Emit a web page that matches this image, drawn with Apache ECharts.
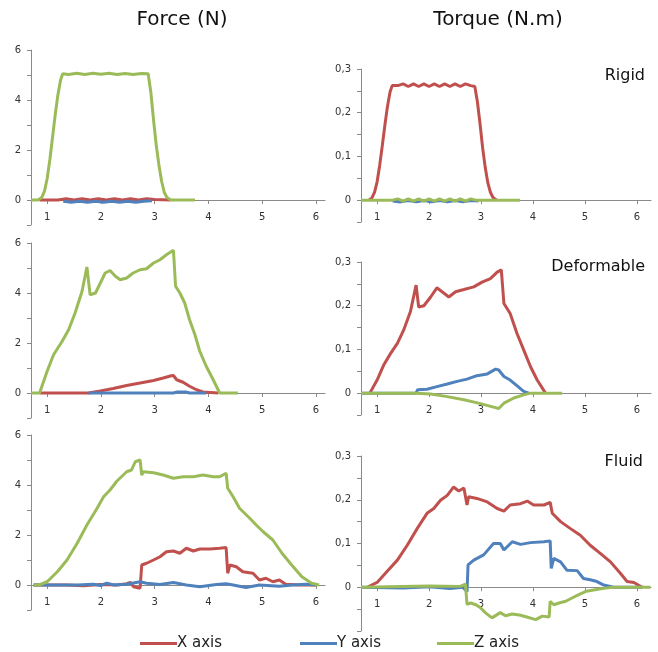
<!DOCTYPE html>
<html>
<head>
<meta charset="utf-8">
<script src="https://cdn.jsdelivr.net/npm/echarts@6/dist/echarts.min.js"></script>
<style>html,body{margin:0;padding:0;background:#fff}#c{width:658px;height:652px}</style>
</head>
<body>
<div id="c"></div>
<script>
// ---------- tick labels ----------
const xTicks = [1, 2, 3, 4, 5, 6];
const seriesNames = ['X axis', 'Y axis', 'Z axis'];
const columnTitles = ['Force (N)', 'Torque (N.m)'];
const rowLabels = ['Rigid', 'Deformable', 'Fluid'];

// ---------- Force, Rigid ----------
const forceRigidX = [[0.86,0],[1.2,0],[1.35,0.05],[1.5,0],[1.65,0.05],[1.8,0],[1.95,0.05],[2.1,0],[2.25,0.05],[2.4,0],[2.55,0.05],[2.7,0],[2.85,0.05],[3.0,0.02],[3.3,0]];
const forceRigidY = [[1.3,-0.05],[1.45,-0.09],[1.6,-0.05],[1.75,-0.09],[1.9,-0.05],[2.05,-0.09],[2.2,-0.05],[2.35,-0.09],[2.5,-0.05],[2.65,-0.09],[2.8,-0.05],[2.95,-0.03]];
const forceRigidZ = [[0.7,0],[0.83,0],[0.9,0.1],[0.95,0.35],[1.0,0.85],[1.05,1.6],[1.1,2.5],[1.15,3.4],[1.2,4.2],[1.25,4.8],[1.29,5.05],[1.4,5.02],[1.55,5.07],[1.7,5.02],[1.85,5.07],[2.0,5.03],[2.15,5.07],[2.3,5.02],[2.45,5.06],[2.6,5.02],[2.75,5.06],[2.88,5.05],[2.93,4.3],[2.98,3.2],[3.03,2.2],[3.08,1.4],[3.13,0.75],[3.18,0.3],[3.23,0.1],[3.3,0],[3.75,0]];

// ---------- Torque, Rigid ----------
const torqueRigidX = [[0.84,0],[0.9,0.005],[0.95,0.018],[1.0,0.042],[1.05,0.08],[1.1,0.125],[1.15,0.172],[1.2,0.215],[1.25,0.248],[1.29,0.262],[1.4,0.262],[1.5,0.266],[1.6,0.26],[1.7,0.266],[1.8,0.26],[1.9,0.266],[2.0,0.26],[2.1,0.266],[2.2,0.26],[2.3,0.266],[2.4,0.26],[2.5,0.266],[2.6,0.26],[2.7,0.266],[2.8,0.262],[2.88,0.26],[2.93,0.225],[2.98,0.175],[3.03,0.12],[3.08,0.075],[3.13,0.04],[3.18,0.018],[3.23,0.006],[3.3,0]];
const torqueRigidY = [[1.3,-0.002],[1.45,-0.004],[1.6,-0.001],[1.75,-0.004],[1.9,-0.001],[2.05,-0.004],[2.2,-0.001],[2.35,-0.004],[2.5,-0.001],[2.65,-0.004],[2.8,-0.001],[2.95,-0.002]];
const torqueRigidZ = [[0.69,0],[1.3,0],[1.4,0.003],[1.5,-0.002],[1.6,0.003],[1.7,-0.002],[1.8,0.003],[1.9,-0.002],[2.0,0.003],[2.1,-0.002],[2.2,0.003],[2.3,-0.002],[2.4,0.003],[2.5,-0.002],[2.6,0.003],[2.7,-0.002],[2.8,0.003],[2.9,0],[3.75,0]];

// ---------- Force, Deformable ----------
const forceDefX = [[0.86,0],[1.77,0],[1.99,0.08],[2.23,0.18],[2.48,0.3],[2.73,0.4],[2.98,0.5],[3.16,0.6],[3.31,0.69],[3.35,0.7],[3.41,0.53],[3.53,0.43],[3.65,0.27],[3.78,0.13],[3.9,0.04],[4.18,0]];
const forceDefY = [[1.77,0],[3.35,0],[3.42,0.04],[3.58,0.04],[3.65,0],[3.96,0]];
const forceDefZ = [[0.7,0],[0.86,0],[1.0,0.87],[1.12,1.53],[1.28,2.07],[1.4,2.53],[1.52,3.2],[1.65,4.07],[1.74,5.04],[1.8,3.93],[1.9,4.0],[1.99,4.4],[2.08,4.8],[2.17,4.9],[2.27,4.67],[2.36,4.53],[2.48,4.6],[2.6,4.8],[2.73,4.93],[2.85,4.97],[2.98,5.2],[3.1,5.33],[3.22,5.53],[3.35,5.71],[3.39,4.27],[3.47,4.0],[3.56,3.6],[3.65,2.93],[3.75,2.33],[3.84,1.67],[3.96,1.07],[4.09,0.53],[4.21,0],[4.55,0]];

// ---------- Torque, Deformable ----------
const torqueDefX = [[0.86,0],[1.0,0.03],[1.13,0.065],[1.26,0.091],[1.39,0.114],[1.51,0.144],[1.64,0.186],[1.75,0.247],[1.8,0.197],[1.9,0.2],[2.03,0.22],[2.15,0.241],[2.25,0.232],[2.38,0.22],[2.51,0.232],[2.67,0.237],[2.86,0.243],[3.02,0.254],[3.18,0.262],[3.31,0.277],[3.39,0.282],[3.44,0.205],[3.56,0.182],[3.69,0.137],[3.82,0.099],[3.95,0.061],[4.08,0.03],[4.24,0]];
const torqueDefY = [[0.69,0],[1.75,0],[1.78,0.008],[1.96,0.009],[2.15,0.015],[2.35,0.021],[2.54,0.027],[2.73,0.032],[2.92,0.04],[3.12,0.044],[3.28,0.055],[3.34,0.053],[3.44,0.038],[3.56,0.03],[3.69,0.017],[3.82,0.004],[3.92,0]];
const torqueDefZ = [[0.69,0],[1.75,0],[2.03,-0.002],[2.35,-0.008],[2.67,-0.015],[2.99,-0.024],[3.24,-0.032],[3.34,-0.035],[3.44,-0.023],[3.63,-0.011],[3.82,-0.004],[3.95,0],[4.56,0]];

// ---------- Force, Fluid ----------
const forceFluidX = [[0.75,0],[1.37,0],[1.68,-0.03],[1.99,0.02],[2.3,0],[2.48,0.05],[2.55,0.1],[2.61,-0.07],[2.73,-0.13],[2.76,0.8],[2.85,0.87],[2.98,1.0],[3.1,1.13],[3.22,1.33],[3.35,1.36],[3.47,1.27],[3.59,1.47],[3.72,1.36],[3.84,1.44],[4.03,1.44],[4.21,1.47],[4.33,1.5],[4.36,0.47],[4.4,0.8],[4.52,0.73],[4.64,0.53],[4.83,0.47],[4.95,0.2],[5.07,0.27],[5.2,0.13],[5.32,0.2],[5.44,0.03],[5.69,0],[6.0,0]];
const forceFluidY = [[0.75,0],[1.56,0],[1.86,0.03],[1.99,-0.02],[2.11,0.07],[2.24,0],[2.48,0.03],[2.73,0.13],[2.85,0.07],[3.1,0.02],[3.35,0.1],[3.59,0],[3.84,-0.07],[4.15,0.02],[4.33,0.05],[4.46,0],[4.7,-0.1],[4.95,0],[5.32,-0.05],[5.57,0],[5.82,0.03],[6.0,0]];
const forceFluidZ = [[0.75,0],[0.85,0],[1.0,0.13],[1.19,0.53],[1.37,1.0],[1.56,1.67],[1.74,2.4],[1.93,3.07],[2.05,3.53],[2.17,3.8],[2.3,4.16],[2.48,4.53],[2.57,4.6],[2.64,4.93],[2.73,5.0],[2.76,4.4],[2.79,4.53],[2.98,4.49],[3.16,4.4],[3.35,4.27],[3.53,4.33],[3.72,4.33],[3.9,4.4],[4.09,4.33],[4.21,4.33],[4.33,4.47],[4.36,3.87],[4.46,3.53],[4.58,3.07],[4.77,2.67],[4.89,2.4],[5.02,2.13],[5.2,1.8],[5.37,1.27],[5.55,0.8],[5.74,0.33],[5.92,0.07],[6.06,0]];

// ---------- Torque, Fluid ----------
const torqueFluidX = [[0.81,0],[1.0,0.011],[1.19,0.036],[1.39,0.062],[1.58,0.096],[1.77,0.134],[1.96,0.169],[2.09,0.18],[2.22,0.199],[2.35,0.21],[2.47,0.229],[2.57,0.22],[2.67,0.227],[2.73,0.188],[2.76,0.207],[2.92,0.203],[3.12,0.195],[3.31,0.18],[3.44,0.174],[3.56,0.188],[3.76,0.191],[3.89,0.197],[4.01,0.188],[4.21,0.188],[4.33,0.194],[4.37,0.169],[4.53,0.15],[4.72,0.134],[4.91,0.119],[5.1,0.096],[5.3,0.077],[5.49,0.058],[5.68,0.032],[5.81,0.013],[5.94,0.011],[6.1,0]];
const torqueFluidY = [[0.69,0],[1.5,-0.002],[2.0,0.001],[2.4,-0.003],[2.65,0],[2.73,-0.01],[2.75,0.051],[2.86,0.062],[3.05,0.074],[3.24,0.1],[3.37,0.1],[3.44,0.085],[3.6,0.104],[3.76,0.098],[3.95,0.102],[4.21,0.104],[4.33,0.106],[4.35,0.043],[4.4,0.066],[4.53,0.058],[4.65,0.039],[4.85,0.038],[4.97,0.02],[5.1,0.017],[5.23,0.013],[5.36,0.005],[5.55,0],[6.1,0]];
const torqueFluidZ = [[0.69,0],[2.0,0.003],[2.6,0.002],[2.7,0.007],[2.73,-0.039],[2.8,-0.036],[2.9,-0.04],[2.99,-0.047],[3.08,-0.058],[3.21,-0.07],[3.37,-0.058],[3.47,-0.065],[3.6,-0.061],[3.76,-0.064],[3.88,-0.068],[4.05,-0.074],[4.18,-0.066],[4.31,-0.068],[4.33,-0.032],[4.4,-0.04],[4.5,-0.036],[4.63,-0.032],[4.76,-0.024],[4.88,-0.017],[5.03,-0.009],[5.22,-0.005],[5.4,-0.002],[5.53,0],[6.26,0]];

// ---------- build ----------
const colors = ['#C0504D', '#4F81BD', '#9BBB59'];
const FONT = 'DejaVu Sans';
const panels = [
  { data: [forceRigidX, forceRigidY, forceRigidZ], kind: 'force', left: 31, top: 50, width: 294, height: 175, yMin: -1 },
  { data: [torqueRigidX, torqueRigidY, torqueRigidZ], kind: 'torque', left: 361, top: 69, width: 290, height: 153, yMin: -0.05 },
  { data: [forceDefX, forceDefY, forceDefZ], kind: 'force', left: 31, top: 243, width: 294, height: 175, yMin: -1 },
  { data: [torqueDefX, torqueDefY, torqueDefZ], kind: 'torque', left: 361, top: 262, width: 290, height: 153, yMin: -0.05 },
  { data: [forceFluidX, forceFluidY, forceFluidZ], kind: 'force', left: 31, top: 435, width: 294, height: 175, yMin: -1 },
  { data: [torqueFluidX, torqueFluidY, torqueFluidZ], kind: 'torque', left: 361, top: 456, width: 290, height: 175, yMin: -0.1 }
];

const axisColor = '#8a8a8a';
const labelStyle = { fontFamily: FONT, fontSize: 10, color: '#333' };
const grid = [], xAxis = [], yAxis = [], series = [];
panels.forEach((p, i) => {
  grid.push({ left: p.left, top: p.top, width: p.width, height: p.height });
  const isF = p.kind === 'force';
  const yMax = isF ? 6 : 0.3;
  // distance (px) from the grid bottom up to the y = 0 line: the x axis crosses there
  const zeroOffset = p.height * (0 - p.yMin) / (yMax - p.yMin);
  xAxis.push({
    type: 'value', gridIndex: i, position: 'bottom', offset: -zeroOffset,
    min: isF ? 0.7 : 0.69, max: isF ? 6.17 : 6.27,
    axisLine: { onZero: false, lineStyle: { color: axisColor, width: 1 } },
    axisTick: { show: true, length: 4, customValues: xTicks, lineStyle: { color: axisColor } },
    axisLabel: Object.assign({ customValues: xTicks, margin: 12 }, labelStyle),
    splitLine: { show: false }
  });
  yAxis.push({
    type: 'value', gridIndex: i,
    min: p.yMin, max: yMax, interval: isF ? 1 : 0.05,
    axisLine: { show: true, onZero: false, lineStyle: { color: axisColor, width: 1 } },
    axisTick: { show: true, length: 4, lineStyle: { color: axisColor } },
    axisLabel: Object.assign({
      margin: 10,
      formatter: function (v) {
        if (isF) { return (v >= 0 && Math.round(v) % 2 === 0) ? String(Math.round(v)) : ''; }
        const r = Math.round(v * 100);
        if (r < 0 || r % 10 !== 0) return '';
        return r === 0 ? '0' : String(r / 100).replace('.', ',');
      }
    }, labelStyle),
    splitLine: { show: false }
  });
  p.data.forEach((d, k) => {
    series.push({
      name: seriesNames[k], type: 'line', xAxisIndex: i, yAxisIndex: i,
      data: d, showSymbol: false, symbol: 'none', clip: false,
      lineStyle: { color: colors[k], width: 3 }, itemStyle: { color: colors[k] },
      z: 2 + k
    });
  });
});

const legendBase = { icon: 'rect', itemWidth: 37, itemHeight: 3, top: 631,
  textStyle: { fontFamily: FONT, fontSize: 15, color: '#222', padding: [0, 0, 0, -5] } };
const legend = [
  Object.assign({ left: 135, data: [seriesNames[0]] }, legendBase),
  Object.assign({ left: 295, data: [seriesNames[1]] }, legendBase),
  Object.assign({ left: 432, data: [seriesNames[2]] }, legendBase)
];

const textEl = (t, x, y, size, align) => ({
  type: 'text', x: x, y: y,
  style: { text: t, fontFamily: FONT, fontSize: size, fill: '#111', textAlign: align, textVerticalAlign: 'middle' }
});
const graphic = [
  textEl(columnTitles[0], 182, 20, 20, 'center'),
  textEl(columnTitles[1], 498, 20, 20, 'center'),
  textEl(rowLabels[0], 645, 76, 16, 'right'),
  textEl(rowLabels[1], 645, 267, 16, 'right'),
  textEl(rowLabels[2], 643, 462, 16, 'right')
];

const chart = echarts.init(document.getElementById('c'), null, { renderer: 'canvas' });
chart.setOption({ animation: false, backgroundColor: '#fff', grid, xAxis, yAxis, series, legend, graphic });
</script>
</body>
</html>
